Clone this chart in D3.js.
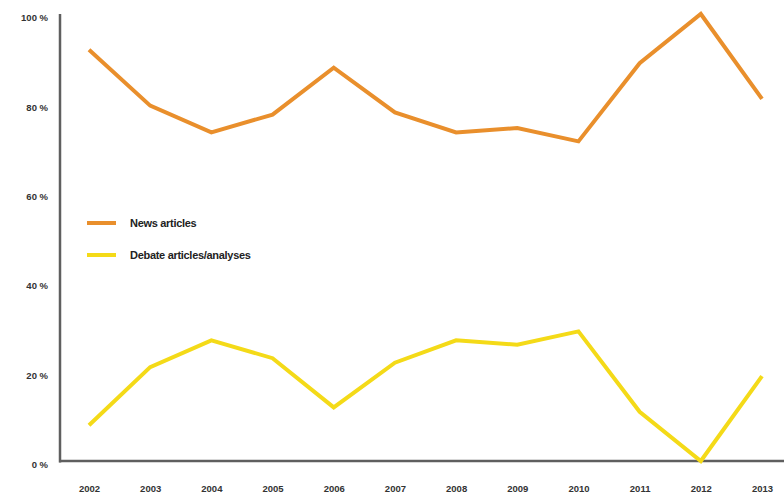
<!DOCTYPE html>
<html lang="en">
<head>
    <meta charset="UTF-8">
    <title>News vs debate articles</title>
    <script src="https://cdn.jsdelivr.net/npm/d3@7"></script>
    <style>
        body {
            margin: 0;
            padding: 0;
            background: #ffffff;
            font-family: "Liberation Sans", Arial, sans-serif;
        }

        #chart {
            display: block;
        }

        .tick text {
            font-size: 9.5px;
            font-weight: bold;
            fill: #333;
        }

        .legend text {
            font-size: 11px;
            font-weight: bold;
            fill: #222;
            letter-spacing: -0.3px;
        }
    </style>
</head>
<body>
    <svg id="chart" width="784" height="498"></svg>

    <script>
        const years = ["2002", "2003", "2004", "2005", "2006", "2007", "2008", "2009", "2010", "2011", "2012", "2013"];
        const newsArticles = [92, 79.5, 73.5, 77.5, 88, 78, 73.5, 74.5, 71.5, 89, 100, 81];
        const debateArticles = [8, 21, 27, 23, 12, 22, 27, 26, 29, 11, 0, 19];
        const yTicks = [0, 20, 40, 60, 80, 100];
        const seriesNames = ["News articles", "Debate articles/analyses"];
        const seriesColors = ["#e98f2c", "#f4da18"];

        const svg = d3.select("#chart");

        const x = d3.scalePoint()
            .domain(years)
            .range([89, 762]);

        const y = d3.scaleLinear()
            .domain([0, 100])
            .range([461, 14]);

        // y axis: vertical line plus percentage labels
        const yAxis = d3.axisLeft(y)
            .tickValues(yTicks)
            .tickSize(0)
            .tickPadding(12)
            .tickFormat(d => d + " %");

        svg.append("g")
            .attr("class", "y-axis")
            .attr("transform", "translate(60,0)")
            .call(yAxis)
            .call(g => g.select(".domain").remove())
            .call(g => g.selectAll(".tick text").attr("dy", "0.7em"));

        svg.append("line")
            .attr("x1", 60).attr("x2", 60)
            .attr("y1", y(100)).attr("y2", y(0) + 1.5)
            .attr("stroke", "#5f5f5f")
            .attr("stroke-width", 2.5);

        // x axis
        const xAxis = d3.axisBottom(x)
            .tickSize(0)
            .tickPadding(24);

        svg.append("g")
            .attr("class", "x-axis")
            .attr("transform", `translate(0,${y(0)})`)
            .call(xAxis)
            .call(g => g.select(".domain").remove());

        svg.append("line")
            .attr("x1", 59).attr("x2", 784)
            .attr("y1", y(0)).attr("y2", y(0))
            .attr("stroke", "#5f5f5f")
            .attr("stroke-width", 2.5);

        const line = d3.line()
            .x((d, i) => x(years[i]))
            .y(d => y(d));

        [newsArticles, debateArticles].forEach((values, i) => {
            svg.append("path")
                .datum(values)
                .attr("fill", "none")
                .attr("stroke", seriesColors[i])
                .attr("stroke-width", 4)
                .attr("stroke-linejoin", "miter")
                .attr("d", line);
        });

        // legend
        const legend = svg.append("g")
            .attr("class", "legend")
            .attr("transform", "translate(87,223)");

        seriesNames.forEach((name, i) => {
            const row = legend.append("g")
                .attr("transform", `translate(0,${i * 32})`);
            row.append("line")
                .attr("x1", 0).attr("x2", 29)
                .attr("y1", 0).attr("y2", 0)
                .attr("stroke", seriesColors[i])
                .attr("stroke-width", 4);
            row.append("text")
                .attr("x", 43)
                .attr("y", 0)
                .attr("dy", "0.35em")
                .text(name);
        });
    </script>
</body>
</html>
